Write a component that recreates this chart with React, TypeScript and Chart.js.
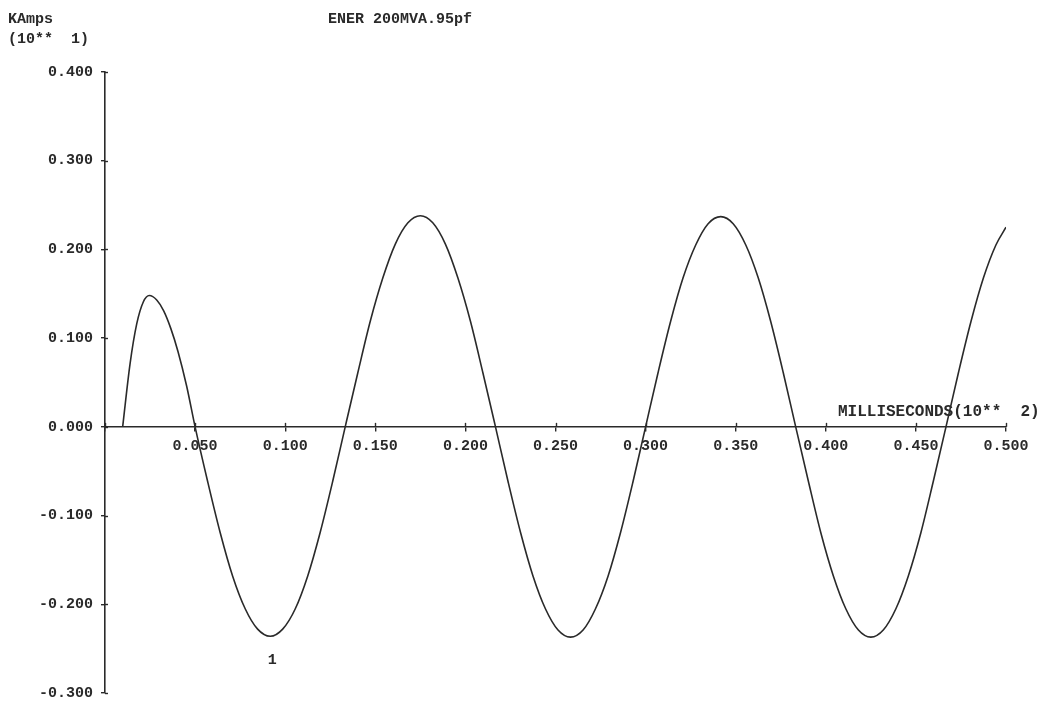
import React, { useEffect, useRef } from "react";
import { Chart, registerables } from "chart.js";

Chart.register(...registerables);

// time in units of 10**2 ms, current in units of 10**1 kA
const timeValues = [
  0.0098, 0.0139, 0.0176, 0.0213, 0.0246, 0.0287, 0.0325, 0.0365, 0.0405, 0.0453,
  0.0500, 0.0569, 0.0639, 0.0708, 0.0778, 0.0847, 0.0917, 0.0986, 0.1056, 0.1125,
  0.1194, 0.1264, 0.1333, 0.1403, 0.1472, 0.1542, 0.1611, 0.1681, 0.1750, 0.1819,
  0.1889, 0.1958, 0.2028, 0.2097, 0.2167, 0.2236, 0.2306, 0.2375, 0.2444, 0.2514,
  0.2583, 0.2653, 0.2722, 0.2792, 0.2861, 0.2931, 0.3000, 0.3069, 0.3139, 0.3208,
  0.3278, 0.3347, 0.3417, 0.3486, 0.3556, 0.3625, 0.3694, 0.3764, 0.3833, 0.3903,
  0.3972, 0.4042, 0.4111, 0.4181, 0.4250, 0.4319, 0.4389, 0.4458, 0.4528, 0.4597,
  0.4667, 0.4736, 0.4806, 0.4875, 0.4944, 0.5000,
];

const kAmpValues = [
  0, 0.071, 0.116, 0.141, 0.148, 0.143, 0.131, 0.111, 0.085, 0.046,
  0, -0.061, -0.119, -0.168, -0.205, -0.228, -0.236, -0.228, -0.205, -0.168,
  -0.119, -0.061, 0, 0.061, 0.119, 0.168, 0.206, 0.23, 0.238, 0.23,
  0.206, 0.168, 0.119, 0.061, 0, -0.061, -0.119, -0.168, -0.205, -0.229,
  -0.237, -0.229, -0.205, -0.168, -0.119, -0.061, 0, 0.061, 0.119, 0.168,
  0.205, 0.229, 0.237, 0.229, 0.205, 0.168, 0.119, 0.061, 0, -0.061,
  -0.119, -0.168, -0.205, -0.229, -0.237, -0.229, -0.205, -0.168, -0.119, -0.061,
  0, 0.061, 0.119, 0.168, 0.205, 0.225,
];

const yTickMin = -0.3;
const yTickMax = 0.4;
const yTickStep = 0.1;
const xTickMin = 0;
const xTickMax = 0.5;
const xTickStep = 0.05;

const titleText = "ENER 200MVA.95pf";
const yUnitText = "KAmps";
const yScaleText = "(10**  1)";
const xAxisText = "MILLISECONDS(10**  2)";
const curveLabel = "1";
const curveLabelIndex = 16;

const FONT = "'Liberation Mono', 'DejaVu Sans Mono', monospace";
const INK = "#2a2a2a";

export default function App() {
  const canvasRef = useRef<HTMLCanvasElement | null>(null);

  useEffect(() => {
    document.body.style.margin = "0";
    const canvas = canvasRef.current;
    if (!canvas) return;

    const points = timeValues.map((t, i) => ({ x: t, y: kAmpValues[i] }));

    const textPlugin = {
      id: "plotterText",
      afterDraw(chart: any) {
        const ctx = chart.ctx;
        const xs = chart.scales.x;
        const ys = chart.scales.y;
        ctx.save();
        // inner halves of the crossing tick marks
        ctx.strokeStyle = INK;
        ctx.lineWidth = 1.4;
        const y0 = ys.getPixelForValue(0);
        xs.ticks.forEach((t: any) => {
          const px = Math.round(xs.getPixelForValue(t.value)) + 0.5;
          ctx.beginPath();
          ctx.moveTo(px, y0);
          ctx.lineTo(px, y0 - 4);
          ctx.stroke();
        });
        const xLeft = xs.left;
        ys.ticks.forEach((t: any) => {
          const py = Math.round(ys.getPixelForValue(t.value)) + 0.5;
          ctx.beginPath();
          ctx.moveTo(xLeft, py);
          ctx.lineTo(xLeft + 3, py);
          ctx.stroke();
        });

        ctx.fillStyle = INK;
        ctx.font = `bold 15px ${FONT}`;
        ctx.textBaseline = "alphabetic";
        ctx.textAlign = "left";
        ctx.fillText(yUnitText, 8, 23);
        ctx.fillText(yScaleText, 8, 43);
        ctx.fillText(titleText, 328, 23);
        ctx.font = `bold 16px ${FONT}`;
        ctx.fillText(xAxisText, 838, 416);
        const px = xs.getPixelForValue(timeValues[curveLabelIndex]);
        const py = ys.getPixelForValue(kAmpValues[curveLabelIndex]);
        ctx.textAlign = "center";
        ctx.font = `bold 15px ${FONT}`;
        ctx.fillText(curveLabel, px + 2, py + 28);
        ctx.restore();
      },
    };

    const chart = new Chart(canvas, {
      type: "line",
      data: {
        datasets: [
          {
            data: points,
            borderColor: INK,
            borderWidth: 1.6,
            pointRadius: 0,
            cubicInterpolationMode: "monotone",
            fill: false,
          },
        ],
      },
      options: {
        responsive: false,
        animation: false,
        layout: { padding: { top: 72, bottom: 16, right: 50, left: 0 } },
        plugins: {
          legend: { display: false },
          tooltip: { enabled: false },
          title: { display: false },
        },
        scales: {
          x: {
            type: "linear",
            position: { y: 0 } as any,
            min: xTickMin,
            max: xTickMax,
            afterFit: (scale: any) => {
              scale.height = 0;
            },
            ticks: {
              stepSize: xTickStep,
              color: INK,
              font: { family: FONT, size: 15, weight: "bold" },
              padding: 6,
              maxRotation: 0,
              autoSkip: false,
              callback: (v: any) => (Math.abs(Number(v)) < 1e-9 ? "" : Number(v).toFixed(3)),
            },
            grid: {
              drawOnChartArea: false,
              drawTicks: true,
              tickLength: 4,
              color: INK,
              lineWidth: 1.4,
            },
            border: { color: INK, width: 1.6 },
          },
          y: {
            type: "linear",
            position: "left",
            min: yTickMin,
            max: yTickMax,
            afterFit: (scale: any) => {
              scale.width = 105;
            },
            ticks: {
              stepSize: yTickStep,
              color: INK,
              font: { family: FONT, size: 15, weight: "bold" },
              padding: 8,
              callback: (v: any) => Number(v).toFixed(3),
            },
            grid: {
              drawOnChartArea: false,
              drawTicks: true,
              tickLength: 4,
              color: INK,
              lineWidth: 1.4,
            },
            border: { color: INK, width: 1.6 },
          },
        },
      },
      plugins: [textPlugin],
    });

    return () => {
      chart.destroy();
    };
  }, []);

  return (
    <div style={{ position: "fixed", left: 0, top: 0, width: 1056, height: 710, background: "#fff" }}>
      <canvas ref={canvasRef} width={1056} height={710} style={{ display: "block" }} />
    </div>
  );
}
